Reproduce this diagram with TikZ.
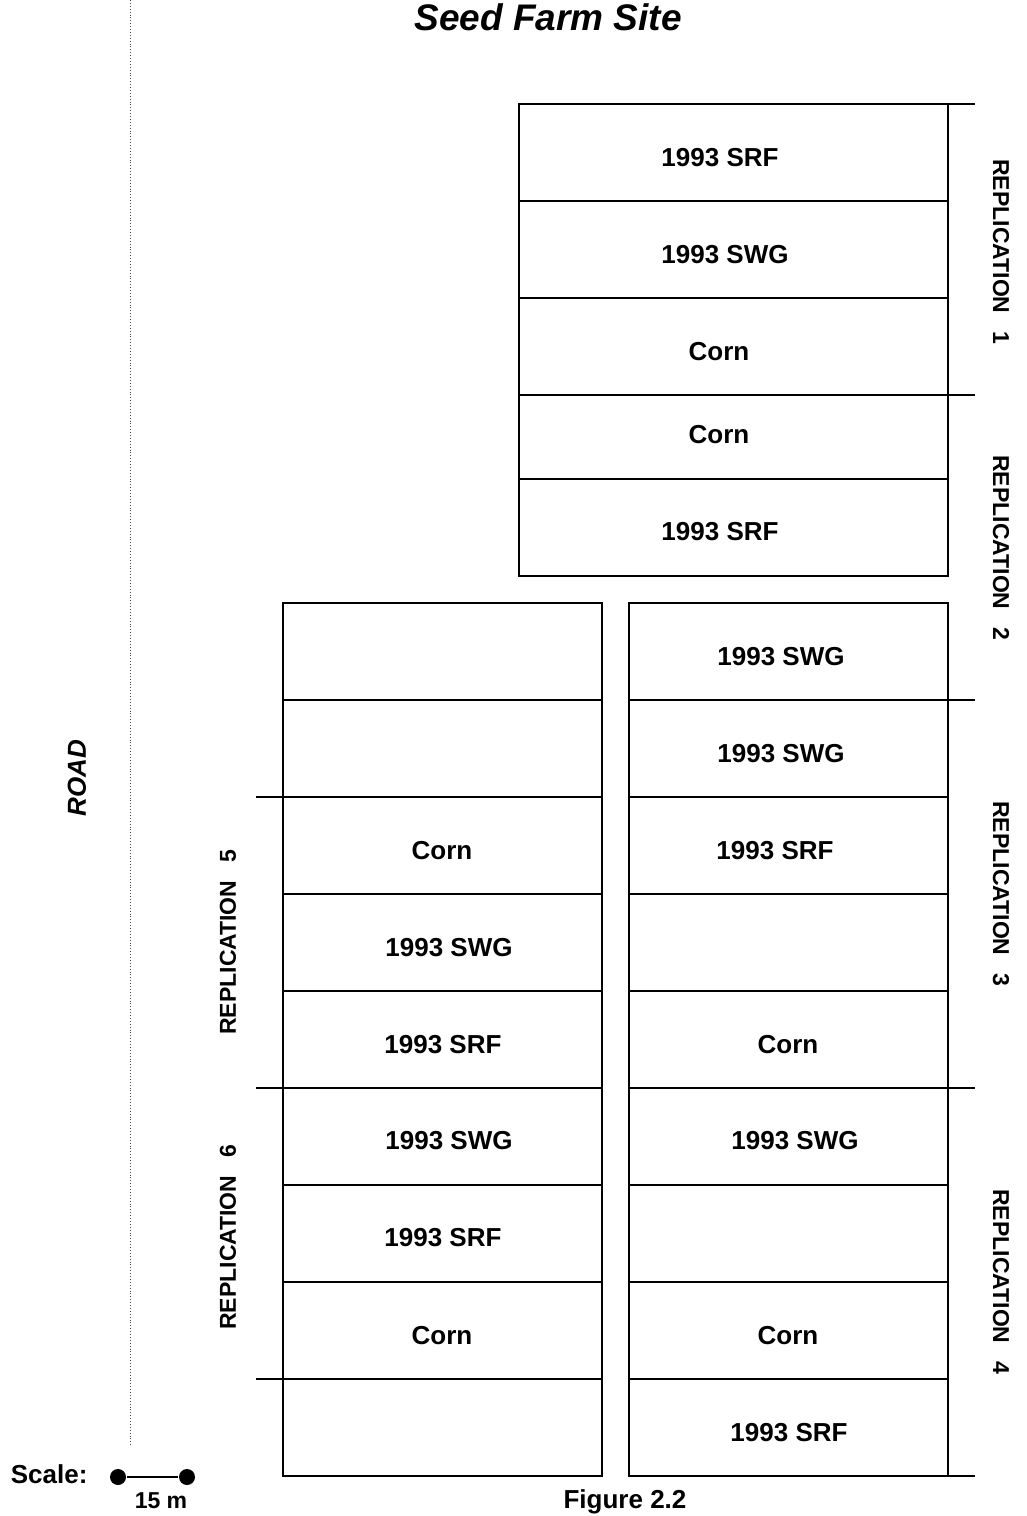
\documentclass[tikz,border=0pt]{standalone}
\usepackage{fontspec}
\setmainfont{Liberation Sans}

\tikzset{every picture/.style={line width=1.7pt}}
\tikzset{
  plotlabel/.style={inner sep=0pt, font=\fontsize{26}{30}\selectfont\bfseries},
  replabel/.style={inner sep=0pt, font=\fontsize{23}{27}\selectfont\bfseries},
  scaledot/.style={circle, fill, inner sep=0pt, minimum size=16pt}
}

\begin{document}
\begin{tikzpicture}[x=1pt,y=1pt,yscale=-1,xscale=1]
\useasboundingbox (0,0) rectangle (1026,1516);

%Shape: Rectangle - top block
\draw (519,104) rectangle (948,576) ;
\draw (948,104) -- (975,104) ;
\draw (519,201) -- (948,201) ;
\draw (519,298) -- (948,298) ;
\draw (519,395) -- (975,395) ;
\draw (519,479) -- (948,479) ;

%Shape: Rectangle - right column
\draw (629,603) rectangle (948,1476) ;
\draw (629,700) -- (975,700) ;
\draw (629,797) -- (948,797) ;
\draw (629,894) -- (948,894) ;
\draw (629,991) -- (948,991) ;
\draw (629,1088) -- (975,1088) ;
\draw (629,1185) -- (948,1185) ;
\draw (629,1282) -- (948,1282) ;
\draw (629,1379) -- (948,1379) ;
\draw (948,1476) -- (975,1476) ;

%Shape: Rectangle - left column
\draw (283,603) rectangle (602,1476) ;
\draw (283,700) -- (602,700) ;
\draw (256,797) -- (602,797) ;
\draw (283,894) -- (602,894) ;
\draw (283,991) -- (602,991) ;
\draw (256,1088) -- (602,1088) ;
\draw (283,1185) -- (602,1185) ;
\draw (283,1282) -- (602,1282) ;
\draw (256,1379) -- (602,1379) ;

%Straight Lines - road
\draw [dotted, line width=0.9pt, black!70] (130,0) -- (130,1445) ;

% Text Node
\draw (548,30) node [anchor=base, inner sep=0pt, font=\fontsize{37}{42}\selectfont\bfseries\itshape] (title) {Seed Farm Site};

% Text Node - top block
\draw (720,158) node [plotlabel] (t1) {1993 SRF};
\draw (725,255) node [plotlabel] (t2) {1993 SWG};
\draw (719,352) node [plotlabel] (t3) {Corn};
\draw (719,435) node [plotlabel] (t4) {Corn};
\draw (720,532) node [plotlabel] (t5) {1993 SRF};

% Text Node - right column
\draw (781,657) node [plotlabel] (r1) {1993 SWG};
\draw (781,754) node [plotlabel] (r2) {1993 SWG};
\draw (775,851) node [plotlabel] (r3) {1993 SRF};
\draw (788,1045) node [plotlabel] (r5) {Corn};
\draw (795,1141) node [plotlabel] (r6) {1993 SWG};
\draw (788,1336) node [plotlabel] (r8) {Corn};
\draw (789,1433) node [plotlabel] (r9) {1993 SRF};

% Text Node - left column
\draw (442,851) node [plotlabel] (l3) {Corn};
\draw (449,948) node [plotlabel] (l4) {1993 SWG};
\draw (443,1045) node [plotlabel] (l5) {1993 SRF};
\draw (449,1141) node [plotlabel] (l6) {1993 SWG};
\draw (443,1238) node [plotlabel] (l7) {1993 SRF};
\draw (442,1336) node [plotlabel] (l8) {Corn};

% Text Node - replications
\draw (1001,252) node [replabel, rotate=-90] (rep1) {REPLICATION\hspace{0.8em}1};
\draw (1001,548) node [replabel, rotate=-90] (rep2) {REPLICATION\hspace{0.8em}2};
\draw (1001,894) node [replabel, rotate=-90] (rep3) {REPLICATION\hspace{0.8em}3};
\draw (1001,1282) node [replabel, rotate=-90] (rep4) {REPLICATION\hspace{0.8em}4};
\draw (228,942) node [replabel, rotate=90] (rep5) {REPLICATION\hspace{0.8em}5};
\draw (228,1237) node [replabel, rotate=90] (rep6) {REPLICATION\hspace{0.8em}6};

% Text Node - road
\draw (77,778) node [rotate=90, inner sep=0pt, font=\fontsize{26}{30}\selectfont\bfseries\itshape] (road) {ROAD};

% Scale bar
\node [scaledot] (sa) at (118,1477) {};
\node [scaledot] (sb) at (187,1477) {};
\draw (sa) -- (sb) ;
\draw (10,1483) node [anchor=base west, inner sep=0pt, font=\fontsize{26}{30}\selectfont\bfseries] (scale) {Scale:};
\draw (161,1508) node [anchor=base, inner sep=0pt, font=\fontsize{23}{27}\selectfont\bfseries] (dist) {15 m};

% Text Node
\draw (625,1508) node [anchor=base, inner sep=0pt, font=\fontsize{26}{30}\selectfont\bfseries] (fig) {Figure 2.2};

\end{tikzpicture}
\end{document}
